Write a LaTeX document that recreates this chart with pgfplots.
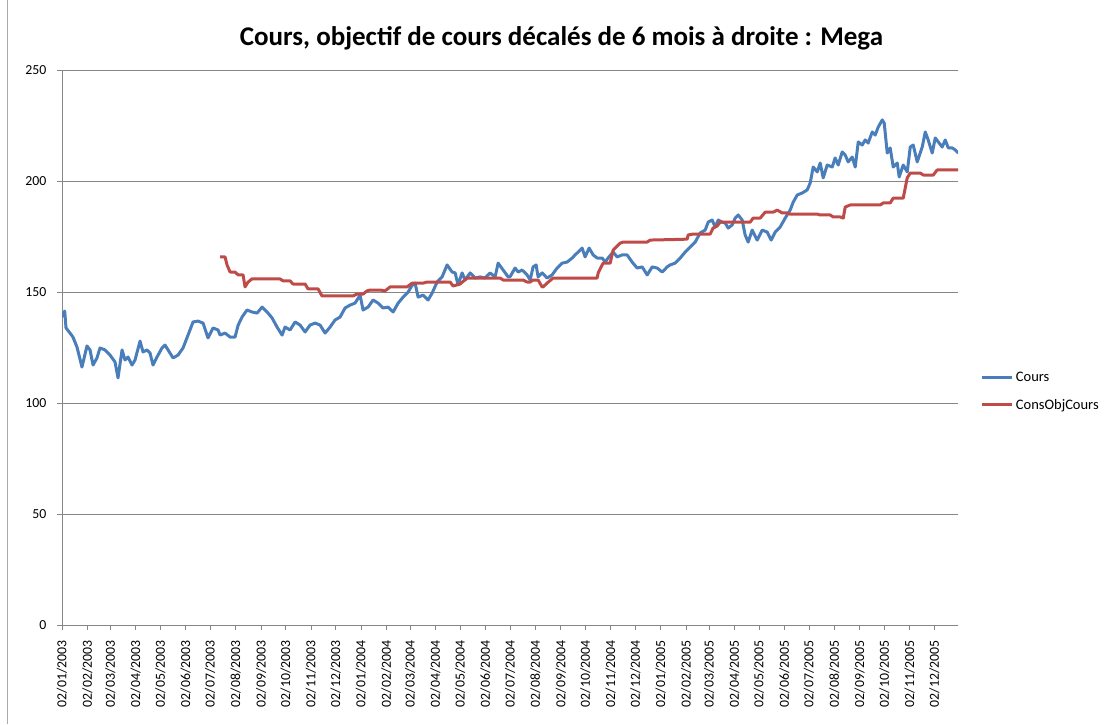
\documentclass[border=0pt]{standalone}
\usepackage{pgfplots}
\pgfplotsset{compat=1.18}
\usepackage{pgfplotstable}
\usepackage{fontspec}
\setmainfont{Carlito}
\definecolor{cblue}{HTML}{4A7EBB}
\definecolor{cred}{HTML}{BE4B48}
\definecolor{cgrid}{HTML}{868686}

% x = days since 02/01/2003
\pgfplotstableread{
d v
0 138.9
3.3 141.4
4.9 133.8
9.8 131.5
13.4 129.7
18.3 125.2
24.4 116.2
30.5 125.7
34.2 123.9
37.9 117.1
42.7 120.3
46.4 124.8
52.5 123.9
58.6 121.6
64.7 118.5
68.4 111.3
73.3 123.9
76.9 119.4
80.6 120.7
85.5 117.1
89.2 119.4
95.3 127.9
98.9 123
103.8 123.9
107.5 122.5
111.1 117.1
116 120.7
122.1 124.8
125.8 126.1
129.5 123.9
135.6 120.3
141.7 121.6
147.8 124.8
153.9 130.6
160 136.5
166.1 136.9
172.2 136
178.3 129.3
184.4 133.8
190.5 132.9
193 130.6
199.1 131.5
205.2 129.7
211.3 129.7
215 135
219.8 138.7
225.9 141.9
232 141
238.2 140.5
244.3 143.2
250.4 141
256.5 138.3
262.6 134.2
268.7 130.6
272.3 134.2
278.5 132.9
284.6 136.5
290.7 135.1
296.8 132
302.9 135.1
309 136
315.1 135.1
321.2 131.5
327.3 134.2
333.4 137.4
339.5 138.7
345.6 142.8
351.7 144.1
357.8 145
363.9 148.6
367.6 141.9
373.7 143.2
379.8 146.4
385.9 145
392 142.8
398.1 143.2
404.3 141
410.4 145
416.5 147.7
422.6 150
427.5 153
431.1 154
434.8 147.7
440.9 148.6
447 146.4
451.9 149.5
458 154.5
464.1 156.8
470.2 162.2
476.3 159
480 158.6
483.6 153.2
488.5 158.6
492.2 155.4
498.3 158.6
504.4 156.3
510.5 156.8
516.6 156.3
522.7 158.6
528.8 156.8
532.5 163
538.6 159.9
544.7 156.8
547.1 156.9
553.2 160.8
556.9 159
561.8 159.9
567.9 157.7
571.6 155.4
575.2 161.3
578.9 162.2
581.3 156.8
586.2 158.6
592.3 156.3
598.4 157.7
604.5 160.8
610.7 163
616.8 163.5
622.9 165.3
626.5 166.7
630.2 168
635.1 169.8
638.7 165.8
643.6 169.8
648.5 166.7
653.4 165.3
659.5 165.3
663.2 163.5
666.8 165.3
672.9 168
677.8 165.8
683.9 166.7
690 166.7
696.1 163.5
702.2 160.8
708.4 161.3
714.5 157.7
720.6 161.3
726.7 160.8
732.8 159
738.9 161.3
742.5 162.2
748.6 163
754.8 165.3
760.9 168
767 170.3
773.1 172.5
779.2 176.6
785.3 177.9
789 181.5
793.8 182.4
797.5 179.3
801.2 182.4
806 181.5
809.7 181.1
813.4 178.8
818.3 180.2
821.9 183.3
825.6 184.7
830.5 182.4
834.1 175.7
837.8 172.5
842.7 177.9
848.8 173.4
854.9 177.9
861 177
865.9 173.4
870.8 177
876.9 179.3
883 183.3
889.1 186.9
892.8 190.5
897.7 193.7
903.8 194.6
909.9 196
913.5 199.1
917.2 206.3
922.1 204.1
925.7 208.1
929.4 201.4
934.3 207.2
940.4 206.3
944 210.4
947.7 207.2
952.6 213.1
956.3 211.7
959.9 208.6
964.8 210.8
968.5 206.3
972.2 217.6
977 216.2
980.7 218.5
984.3 217.1
989.3 222.1
992.9 220.7
996.6 224.3
1001.5 227.5
1003.9 226.1
1007.6 212.6
1011.2 214.9
1014.9 206.3
1019.8 208.1
1022.2 201.8
1027.1 207.2
1032 204.1
1035.7 215.3
1039.3 216.2
1044.2 208.6
1050.3 215.3
1054 222.1
1057.6 218.5
1062.5 212.6
1066.2 219.4
1069.9 217.6
1074.7 215.3
1078.4 218.5
1082.1 214.9
1087 214.9
1090.6 214
1094.3 212.6
}\cours

\pgfplotstableread{
d v
193 165.8
199.1 165.8
201.5 162.2
205.2 159
211.3 159
215 157.7
221.1 157.7
223.5 152.3
227.2 154.5
232 155.9
266.2 155.9
269.9 155
278.5 155
282.1 153.6
296.8 153.6
300.4 151.4
312.7 151.4
317.5 148.2
355.4 148.2
360.3 149.1
367.6 149.1
372.5 150.5
376.2 150.9
388.4 150.9
394.5 150.5
400.6 152.3
421.3 152.3
427.5 154
440.9 154
445.8 154.5
473.9 154.5
477.5 152.7
486.1 153.6
494.6 156.3
534.9 156.3
538.6 155.4
563 155.4
567.9 154.5
571.6 154.5
575.2 155.4
581.3 155.4
586.2 152.3
587.4 152.3
592.3 154
599.6 156.3
653.4 156.3
654.7 158.6
659.5 162.2
660.8 163
669.3 163
672.9 168.9
681.5 172
685.1 172.5
714.5 172.5
718.2 173.4
742.5 173.6
763.3 173.8
764.5 175.7
770.6 176.1
791.4 176.1
795 178.8
799.9 179.7
803.6 181.5
840.3 181.5
843.9 183.3
852.5 183.3
858.6 186
868.4 186
873.3 186.9
879.4 185.6
885.4 185.6
889.1 185.1
922.1 185.1
925.7 184.7
937.9 184.7
941.6 183.8
950.2 183.8
953.9 183.3
956.3 188.3
962.4 189.2
999 189.2
1002.7 190.1
1011.2 190.1
1014.9 192.3
1027.1 192.3
1032 201.4
1035.7 203.6
1047.9 203.6
1051.6 202.7
1063.8 202.7
1068.6 205
1094.3 205
}\consobj

\begin{document}
\begin{tikzpicture}
\path[use as bounding box] (0pt,0pt) rectangle (1107pt,724pt);
\draw[cgrid!70, line width=0.9pt] (7.5pt,0pt) -- (7.5pt,724pt);
\node[font=\fontsize{27}{32}\selectfont\bfseries] at (561.5pt,686pt) {Cours, objectif de cours décalés de 6 mois à droite : Mega};
\begin{axis}[
  at={(62pt,99pt)}, anchor=south west,
  scale only axis, width=896pt, height=555pt,
  xmin=0, xmax=1094, ymin=0, ymax=250,
  ytick={0,50,100,150,200,250},
  xtick={0,31,59,90,120,151,181,212,243,273,304,334,365,396,425,456,486,517,547,578,609,639,670,700,731,762,790,821,851,882,912,943,974,1004,1035,1065},
  xticklabels={02/01/2003,02/02/2003,02/03/2003,02/04/2003,02/05/2003,02/06/2003,02/07/2003,02/08/2003,02/09/2003,02/10/2003,02/11/2003,02/12/2003,02/01/2004,02/02/2004,02/03/2004,02/04/2004,02/05/2004,02/06/2004,02/07/2004,02/08/2004,02/09/2004,02/10/2004,02/11/2004,02/12/2004,02/01/2005,02/02/2005,02/03/2005,02/04/2005,02/05/2005,02/06/2005,02/07/2005,02/08/2005,02/09/2005,02/10/2005,02/11/2005,02/12/2005},
  ymajorgrids,
  grid style={cgrid, line width=0.8pt},
  axis x line*=bottom, axis y line*=left,
  axis line style={cgrid, line width=0.9pt, -},
  tick style={cgrid, line width=0.8pt},
  major tick length=5pt, tick align=outside,
  /pgf/number format/assume math mode=true,
  tick label style={font=\fontsize{13.8}{16}\selectfont, text=black},
  yticklabel style={xshift=-7pt},
  xticklabel style={rotate=90, anchor=east},
  xticklabel shift=7pt,
  legend style={at={(1.022,0.4207)}, anchor=west, draw=none, fill=none,
    font=\fontsize{14.5}{17}\selectfont, row sep=12pt,
    /tikz/every even column/.append style={column sep=0pt}},
  legend cell align=left,
  legend image code/.code={\draw[#1, line width=3pt] (0pt,0pt) -- (30pt,0pt);},
]
\addplot[cblue, line width=3pt, line join=round] table[x=d, y=v] {\cours};
\addlegendentry{Cours}
\addplot[cred, line width=3pt, line join=round] table[x=d, y=v] {\consobj};
\addlegendentry{ConsObjCours}
\end{axis}
\end{tikzpicture}
\end{document}
